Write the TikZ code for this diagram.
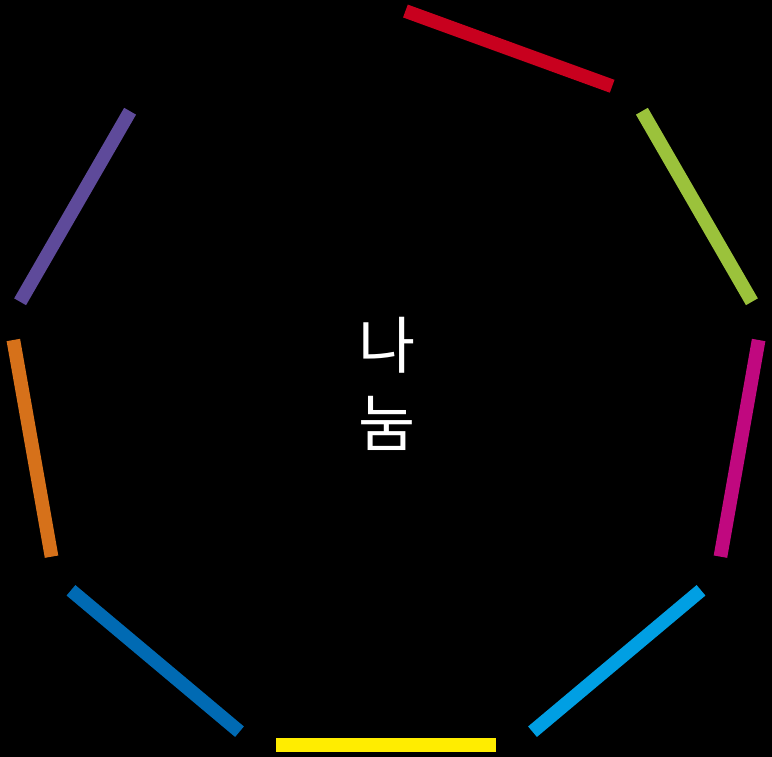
\documentclass[tikz,border=0pt]{standalone}
\usepackage{fontspec}
\usetikzlibrary{calc}
\newfontfamily\krfont{Noto Sans CJK KR}
\definecolor{cRed}{RGB}{200,0,30}
\definecolor{cLime}{RGB}{155,194,59}
\definecolor{cMagenta}{RGB}{192,8,127}
\definecolor{cSky}{RGB}{0,159,227}
\definecolor{cYellow}{RGB}{255,237,0}
\definecolor{cBlue}{RGB}{0,106,179}
\definecolor{cOrange}{RGB}{214,113,26}
\definecolor{cPurple}{RGB}{94,74,154}
\begin{document}
\begin{tikzpicture}[x=1pt,y=1pt,
  seg/.style={line width=13.7pt,line cap=butt},
  label/.style={text=white,align=center,font=\krfont\fontsize{62}{78}\selectfont,inner sep=0pt}]
\useasboundingbox (0,0) rectangle (772,756);
\fill[black] (-3,-3) rectangle (775,759);
\coordinate (C) at (386,370);
\foreach \ang/\col [count=\i] in {70/cRed,30/cLime,-10/cMagenta,-50/cSky,-90/cYellow,-130/cBlue,-170/cOrange,150/cPurple}{
  \coordinate (m\i) at ($(C)+(\ang:359)$);
  \coordinate (a\i) at ($(m\i)+(\ang+90:110)$);
  \coordinate (b\i) at ($(m\i)+(\ang-90:110)$);
  \draw[seg,\col] (a\i) -- (b\i);
}
\node[label] (txt) at (387,372) {나\\눔};
\end{tikzpicture}
\end{document}
